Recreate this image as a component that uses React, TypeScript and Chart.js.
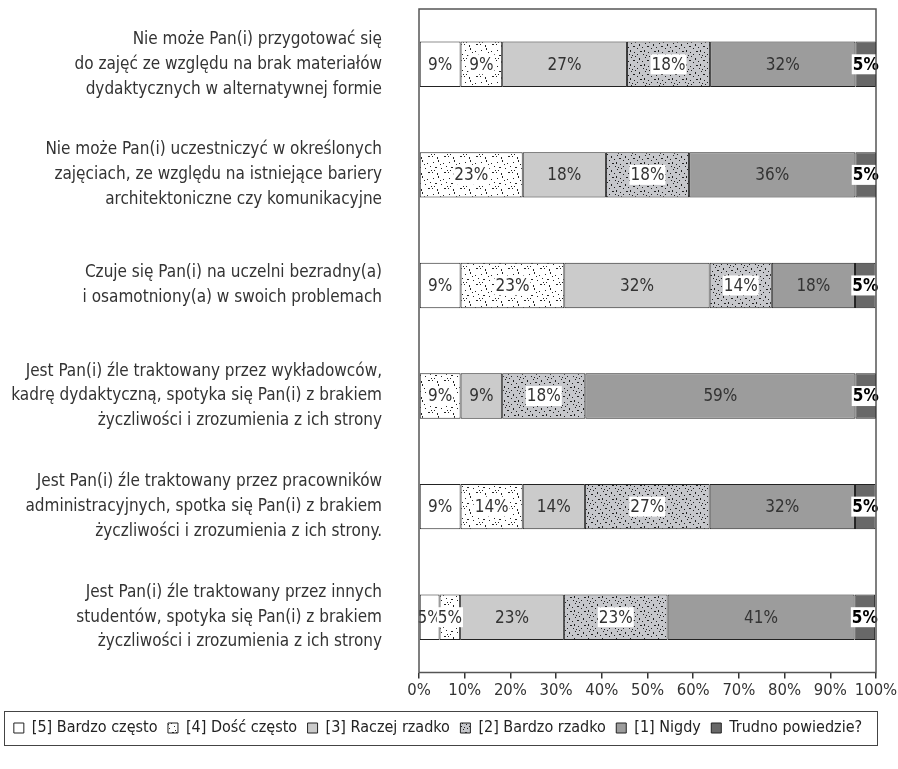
import React, { useEffect, useRef } from "react";
import { Chart, registerables } from "chart.js";

Chart.register(...registerables);

const FONT = "'Liberation Sans Narrow', 'Arial Narrow', 'DejaVu Sans Condensed', sans-serif";

const categories: string[][] = [
  ["Nie może Pan(i) przygotować się", "do zajęć ze względu na brak materiałów", "dydaktycznych w alternatywnej formie"],
  ["Nie może Pan(i) uczestniczyć w określonych", "zajęciach, ze względu na istniejące bariery", "architektoniczne czy komunikacyjne"],
  ["Czuje się Pan(i) na uczelni bezradny(a)", "i osamotniony(a) w swoich problemach"],
  ["Jest Pan(i) źle traktowany przez wykładowców,", "kadrę dydaktyczną, spotyka się Pan(i) z brakiem", "życzliwości i zrozumienia z ich strony"],
  ["Jest Pan(i) źle traktowany przez pracowników", "administracyjnych, spotka się Pan(i) z brakiem", "życzliwości i zrozumienia z ich strony."],
  ["Jest Pan(i) źle traktowany przez innych", "studentów, spotyka się Pan(i) z brakiem", "życzliwości i zrozumienia z ich strony"],
];

const seriesNames = ["[5] Bardzo często", "[4] Dość często", "[3] Raczej rzadko", "[2] Bardzo rzadko", "[1] Nigdy", "Trudno powiedzie?"];

const bardzoCzesto = [9.1, 0, 9.1, 0, 9.1, 4.5];
const doscCzesto = [9.1, 22.7, 22.7, 9.1, 13.6, 4.5];
const raczejRzadko = [27.3, 18.2, 31.8, 9.1, 13.6, 22.7];
const bardzoRzadko = [18.2, 18.2, 13.6, 18.2, 27.3, 22.7];
const nigdy = [31.8, 36.4, 18.2, 59.1, 31.8, 40.9];
const trudnoPowiedziec = [4.5, 4.5, 4.5, 4.5, 4.5, 4.5];

const xTicks = [0, 10, 20, 30, 40, 50, 60, 70, 80, 90, 100];

function makePattern(bg: string, dotColor: string, size: number, dots: number[][]) {
  const c = document.createElement("canvas");
  c.width = size;
  c.height = size;
  const g = c.getContext("2d")!;
  g.fillStyle = bg;
  g.fillRect(0, 0, size, size);
  g.fillStyle = dotColor;
  for (const [x, y, w, h] of dots) g.fillRect(x, y, w || 1, h || 1);
  const p = g.createPattern(c, "repeat");
  return p || bg;
}

export default function App() {
  const ref = useRef<HTMLCanvasElement | null>(null);

  useEffect(() => {
    document.body.style.margin = "0";
    const canvas = ref.current!;
    const whiteDots = makePattern("#ffffff", "#222222", 16, [
      [1, 2, 1, 1], [6, 0, 1, 2], [11, 3, 1, 1], [3, 7, 2, 1], [9, 8, 1, 1], [14, 6, 1, 1],
      [0, 12, 1, 1], [5, 13, 1, 2], [12, 12, 2, 1], [8, 4, 1, 1], [15, 10, 1, 1], [2, 10, 1, 1],
    ]);
    const grayDots = makePattern("#c6c7cb", "#1e1e1e", 14, [
      [1, 1, 1, 1], [5, 0, 1, 1], [9, 2, 1, 2], [12, 5, 1, 1], [3, 4, 2, 1], [7, 6, 1, 1],
      [0, 8, 1, 2], [4, 10, 1, 1], [10, 9, 2, 1], [13, 12, 1, 1], [7, 12, 1, 1], [2, 13, 1, 1],
    ]);

    const series = [bardzoCzesto, doscCzesto, raczejRzadko, bardzoRzadko, nigdy, trudnoPowiedziec];
    const fills: any[] = ["#ffffff", whiteDots, "#cbcbcb", grayDots, "#9c9c9c", "#686868"];

    const labelPlugin = {
      id: "valueLabels",
      afterDatasetsDraw(chart: any) {
        const ctx = chart.ctx;
        ctx.save();
        ctx.textBaseline = "middle";
        ctx.textAlign = "center";
        chart.data.datasets.forEach((ds: any, di: number) => {
          const meta = chart.getDatasetMeta(di);
          meta.data.forEach((el: any, i: number) => {
            const v = ds.data[i];
            if (!v) return;
            const txt = Math.round(v) + "%";
            const cx = (el.x + el.base) / 2;
            const cy = el.y;
            const bold = di === 5;
            ctx.font = (bold ? "bold " : "") + "17px " + FONT;
            const w = ctx.measureText(txt).width;
            if (di === 1 || di === 3 || di === 5) {
              ctx.fillStyle = "#ffffff";
              ctx.fillRect(cx - w / 2 - 1, cy - 10, w + 2, 20);
            }
            ctx.fillStyle = bold ? "#000000" : "#333333";
            ctx.fillText(txt, cx, cy + 1);
          });
        });
        ctx.restore();
      },
    };

    const framePlugin = {
      id: "frame",
      afterDraw(chart: any) {
        const ctx = chart.ctx;
        const a = chart.chartArea;
        ctx.save();
        ctx.strokeStyle = "#555555";
        ctx.lineWidth = 1.5;
        ctx.strokeRect(a.left, a.top, a.right - a.left, a.bottom - a.top);
        const l = chart.legend;
        const mid = (l.top + l.bottom) / 2;
        ctx.lineWidth = 1;
        ctx.strokeStyle = "#444444";
        ctx.strokeRect(4.5, Math.round(mid - 17) + 0.5, 873, 34);
        ctx.restore();
      },
    };

    const chart = new Chart(canvas, {
      type: "bar",
      data: {
        labels: categories,
        datasets: series.map((d, i) => ({
          label: seriesNames[i],
          data: d,
          backgroundColor: fills[i],
          borderColor: "#222222",
          borderWidth: 1,
          borderSkipped: false,
          barPercentage: 0.41,
          categoryPercentage: 1,
        })),
      },
      options: {
        indexAxis: "y",
        responsive: false,
        animation: false,
        events: [],
        layout: { padding: { left: 0, right: 22, top: 9, bottom: 23 } },
        scales: {
          x: {
            stacked: true,
            min: 0,
            max: 100,
            afterBuildTicks(scale: any) {
              scale.ticks = xTicks.map((v) => ({ value: v }));
            },
            afterFit(scale: any) {
              scale.height = 37;
              scale.paddingLeft = 0;
              scale.paddingRight = 0;
            },
            grid: { drawOnChartArea: false, drawTicks: true, tickLength: 6, color: "#333333", lineWidth: 1.5 },
            border: { display: false },
            ticks: {
              padding: 2,
              maxRotation: 0,
              minRotation: 0,
              autoSkip: false,
              color: "#333333",
              font: { family: FONT, size: 16.5 },
              callback: (v: any) => v + "%",
            },
          },
          y: {
            stacked: true,
            afterFit(scale: any) {
              scale.width = 419;
              scale.paddingTop = 0;
              scale.paddingBottom = 0;
            },
            grid: { display: false },
            border: { display: false },
            ticks: {
              padding: 29,
              color: "#333333",
              font: { family: FONT, size: 17, lineHeight: 1.46 },
            },
          },
        },
        plugins: {
          tooltip: { enabled: false },
          legend: {
            position: "bottom",
            labels: {
              color: "#222222",
              font: { family: FONT, size: 16 },
              boxWidth: 10,
              boxHeight: 10,
              padding: 10.5,
            },
          },
        },
      } as any,
      plugins: [labelPlugin, framePlugin],
    });
    return () => chart.destroy();
  }, []);

  return (
    <div style={{ width: 898, height: 769 }}>
      <canvas ref={ref} width={898} height={769} style={{ display: "block" }} />
    </div>
  );
}
